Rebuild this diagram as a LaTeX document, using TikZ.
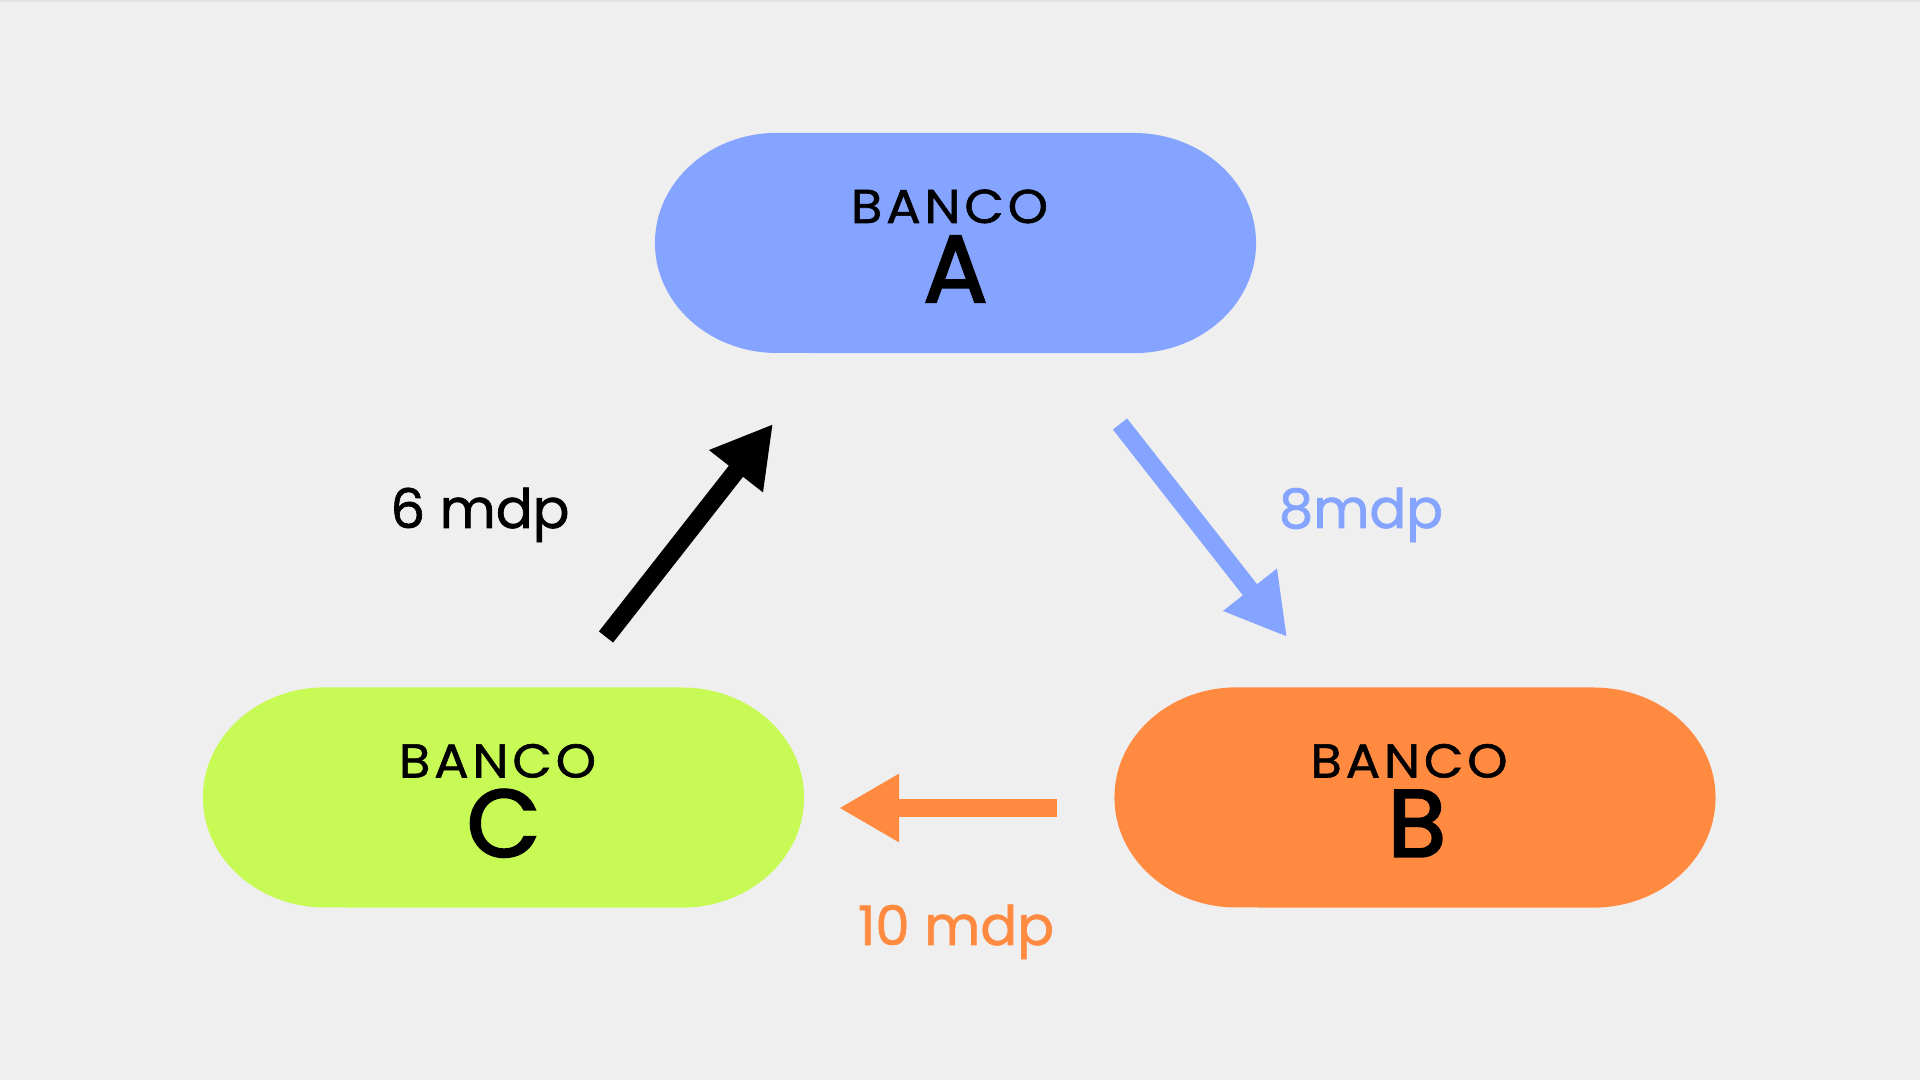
\documentclass[tikz,border=0pt]{standalone}
\usepackage{fontspec}
\setmainfont{Poppins}
\newfontfamily\popmed{Poppins}[FakeBold=1.2]
\newfontfamily\popwide{Poppins}[FakeBold=1.2,FakeStretch=1.08,LetterSpace=8]
\newfontfamily\popsemi{Poppins}[FakeBold=2.6]
\usetikzlibrary{arrows.meta,calc}
\definecolor{bgc}{HTML}{EFEFEF}
\definecolor{topline}{HTML}{E2E2E2}
\definecolor{colA}{HTML}{84A4FF}
\definecolor{colB}{HTML}{FF8A40}
\definecolor{colC}{HTML}{C8FA55}
\newcommand\pillshape[3]{%
  \fill[#3] ({#1-178.5},{#2-110}) -- ({#1+178.5},{#2-110})
    arc[start angle=90,end angle=-90,x radius=1.22cm,y radius=1.10cm]
    -- ({#1-178.5},{#2+110})
    arc[start angle=270,end angle=90,x radius=1.22cm,y radius=1.10cm] -- cycle;}
\tikzset{
  pillnode/.style={minimum width=6.01cm,minimum height=2.2cm,inner sep=0pt},
  bancotxt/.style={anchor=base,inner sep=0pt,font=\popwide\fontsize{13.5}{14}\selectfont},
  lettertxt/.style={anchor=base,inner sep=0pt,font=\popsemi\fontsize{27}{28}\selectfont},
  amttxt/.style={anchor=base,inner sep=0pt,font=\popmed\fontsize{15.5}{16}\selectfont},
  flow/.style={line width=0.18cm,-{Triangle[length=0.6cm,width=0.64cm]}}
}
\begin{document}
\begin{tikzpicture}[x=0.01cm,y=-0.01cm]
\fill[bgc] (0,0) rectangle (1920,1080);
\useasboundingbox (0,0) rectangle (1920,1080);
\draw[topline,line width=0.02cm] (0,1.5) -- (1920,1.5);
% pills
\pillshape{955.5}{243}{colA}
\pillshape{503.5}{797.5}{colC}
\pillshape{1415}{797.5}{colB}
\node[pillnode] (A) at (955.5,243) {};
\node[pillnode] (C) at (503.5,797.5) {};
\node[pillnode] (B) at (1415,797.5) {};
% texts
\node[bancotxt] (At) at ($(A)+(-6,-20)$) {BANCO};
\node[lettertxt] (Al) at ($(A)+(0,59)$) {A};
\node[bancotxt] (Bt) at ($(B)+(-6,-20)$) {BANCO};
\node[lettertxt] (Bl) at ($(B)+(2,59)$) {B};
\node[bancotxt] (Ct) at ($(C)+(-6,-20)$) {BANCO};
\node[lettertxt] (Cl) at ($(C)+(0,59)$) {C};
% arrow end points
\coordinate (c1) at (606,637);
\coordinate (c2) at (773,424);
\coordinate (a1) at (1120,424);
\coordinate (a2) at (1287,637);
\coordinate (b1) at (1057,808);
\coordinate (b2) at (839,808);
\draw[flow,black] (c1) -- (c2);
\draw[flow,colA] (a1) -- (a2);
\draw[flow,colB] (b1) -- (b2);
% amounts
\node[amttxt,text=black] (l6) at (480,528) {6 mdp};
\node[amttxt,text=colA] (l8) at (1361,528) {8mdp};
\node[amttxt,text=colB] (l10) at (956,945) {10 mdp};
\end{tikzpicture}
\end{document}
